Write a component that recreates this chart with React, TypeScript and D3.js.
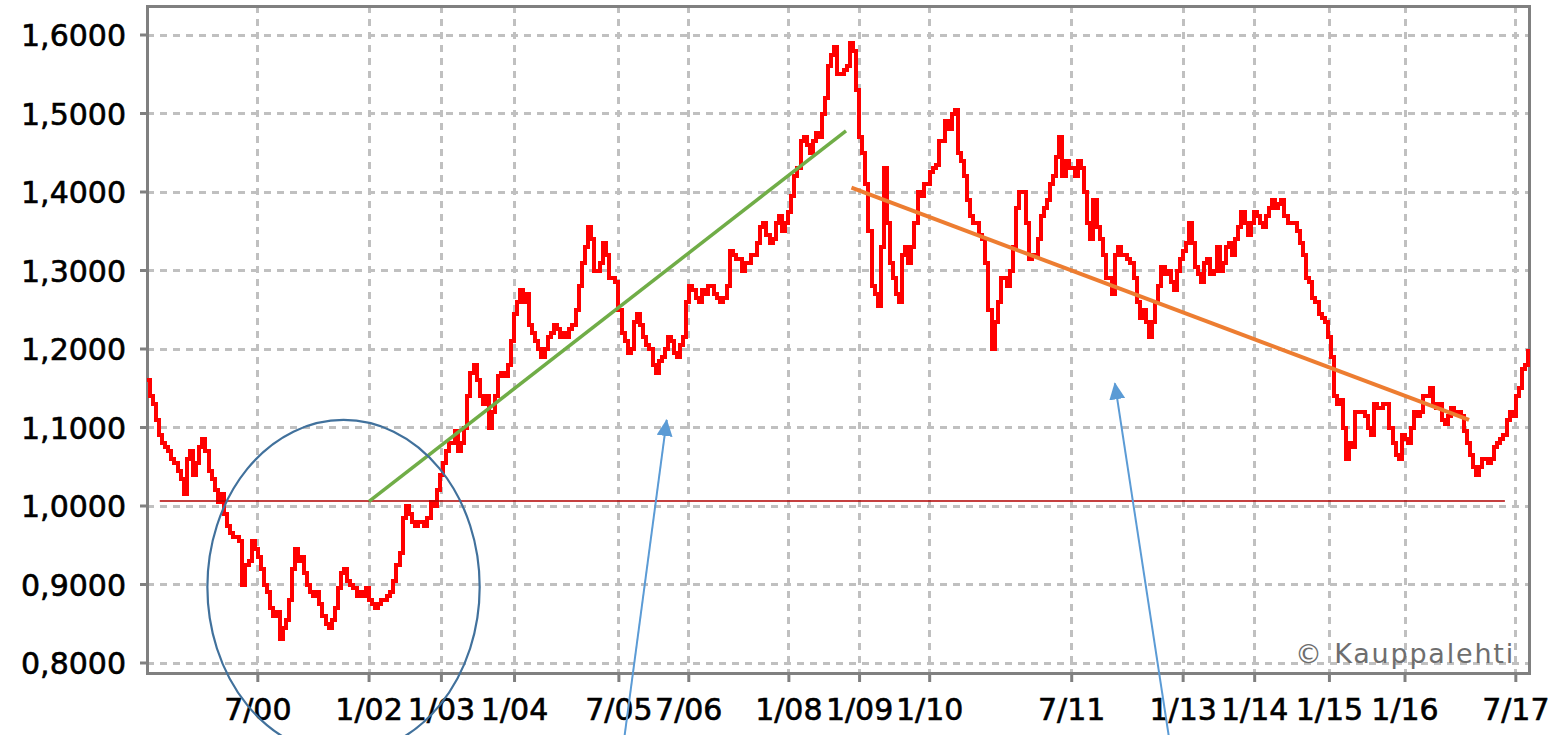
import React, { useEffect, useRef } from "react"
import * as d3 from "d3"

const eur1999 = [1.16, 1.14, 1.13, 1.11, 1.09, 1.08, 1.075, 1.07, 1.06, 1.055, 1.045, 1.035, 1.015, 1.06, 1.07, 1.04, 1.055, 1.075, 1.085, 1.07, 1.045, 1.035, 1.02, 1.005]
const eur2000 = [1.015, 0.99, 0.975, 0.965, 0.96, 0.96, 0.955, 0.9, 0.925, 0.93, 0.955, 0.945, 0.935, 0.92, 0.9, 0.89, 0.87, 0.86, 0.865, 0.83, 0.845, 0.855, 0.88, 0.92]
const eur2001 = [0.945, 0.93, 0.935, 0.915, 0.9, 0.89, 0.885, 0.89, 0.875, 0.86, 0.85, 0.845, 0.855, 0.87, 0.895, 0.915, 0.92, 0.905, 0.9, 0.895, 0.885, 0.89, 0.885, 0.895]
const eur2002 = [0.88, 0.875, 0.87, 0.875, 0.88, 0.88, 0.885, 0.89, 0.905, 0.925, 0.94, 0.985, 1.0, 0.99, 0.98, 0.975, 0.98, 0.98, 0.975, 0.985, 1.005, 1.0, 1.02, 1.04]
const eur2003 = [1.055, 1.07, 1.08, 1.08, 1.095, 1.07, 1.08, 1.1, 1.14, 1.17, 1.18, 1.16, 1.14, 1.13, 1.14, 1.1, 1.12, 1.14, 1.165, 1.17, 1.165, 1.18, 1.21, 1.245]
const eur2004 = [1.26, 1.275, 1.26, 1.27, 1.23, 1.22, 1.21, 1.2, 1.19, 1.2, 1.215, 1.22, 1.23, 1.225, 1.215, 1.22, 1.215, 1.225, 1.23, 1.25, 1.28, 1.31, 1.33, 1.355]
const eur2005 = [1.34, 1.3, 1.3, 1.31, 1.335, 1.32, 1.29, 1.29, 1.285, 1.25, 1.22, 1.21, 1.195, 1.2, 1.235, 1.245, 1.23, 1.215, 1.205, 1.2, 1.18, 1.17, 1.185, 1.19]
const eur2006 = [1.2, 1.215, 1.21, 1.195, 1.19, 1.205, 1.215, 1.26, 1.28, 1.275, 1.265, 1.26, 1.275, 1.27, 1.28, 1.28, 1.27, 1.265, 1.26, 1.265, 1.28, 1.325, 1.32, 1.315]
const eur2007 = [1.315, 1.3, 1.31, 1.31, 1.32, 1.32, 1.335, 1.355, 1.36, 1.345, 1.335, 1.34, 1.36, 1.37, 1.35, 1.36, 1.375, 1.395, 1.42, 1.43, 1.465, 1.47, 1.46, 1.45]
const eur2008 = [1.465, 1.475, 1.47, 1.5, 1.52, 1.56, 1.575, 1.585, 1.55, 1.55, 1.555, 1.56, 1.59, 1.58, 1.53, 1.47, 1.45, 1.41, 1.35, 1.28, 1.27, 1.255, 1.33, 1.43]
const eur2009 = [1.36, 1.31, 1.29, 1.27, 1.26, 1.32, 1.33, 1.31, 1.33, 1.36, 1.4, 1.395, 1.41, 1.41, 1.425, 1.43, 1.435, 1.465, 1.465, 1.49, 1.48, 1.5, 1.505, 1.45]
const eur2010 = [1.44, 1.42, 1.39, 1.37, 1.36, 1.36, 1.345, 1.34, 1.31, 1.25, 1.2, 1.235, 1.26, 1.29, 1.29, 1.28, 1.3, 1.33, 1.38, 1.4, 1.4, 1.36, 1.315, 1.32]
const eur2011 = [1.32, 1.34, 1.37, 1.38, 1.39, 1.41, 1.42, 1.445, 1.47, 1.42, 1.44, 1.43, 1.43, 1.42, 1.44, 1.43, 1.4, 1.36, 1.34, 1.39, 1.355, 1.34, 1.32, 1.29]
const eur2012 = [1.29, 1.27, 1.32, 1.33, 1.32, 1.32, 1.315, 1.31, 1.29, 1.26, 1.24, 1.25, 1.235, 1.215, 1.235, 1.26, 1.28, 1.305, 1.295, 1.3, 1.285, 1.275, 1.3, 1.315]
const eur2013 = [1.325, 1.335, 1.36, 1.335, 1.305, 1.295, 1.285, 1.31, 1.315, 1.295, 1.3, 1.33, 1.3, 1.31, 1.33, 1.335, 1.32, 1.34, 1.355, 1.375, 1.36, 1.345, 1.36, 1.375]
const eur2014 = [1.37, 1.36, 1.355, 1.37, 1.38, 1.39, 1.38, 1.385, 1.39, 1.37, 1.36, 1.36, 1.36, 1.35, 1.335, 1.32, 1.29, 1.285, 1.265, 1.26, 1.245, 1.24, 1.235, 1.215]
const eur2015 = [1.19, 1.14, 1.13, 1.135, 1.1, 1.06, 1.08, 1.075, 1.12, 1.12, 1.12, 1.115, 1.1, 1.09, 1.13, 1.125, 1.125, 1.13, 1.13, 1.1, 1.08, 1.065, 1.06, 1.09]
const eur2016 = [1.085, 1.08, 1.1, 1.12, 1.115, 1.12, 1.14, 1.14, 1.15, 1.13, 1.125, 1.13, 1.11, 1.105, 1.115, 1.125, 1.12, 1.12, 1.115, 1.095, 1.08, 1.065, 1.05, 1.04]
const eur2017 = [1.05, 1.06, 1.06, 1.055, 1.06, 1.075, 1.08, 1.085, 1.09, 1.11, 1.12, 1.115, 1.14, 1.15, 1.175, 1.18, 1.2]

const years: [number, number[]][] = [
  [1999, eur1999], [2000, eur2000], [2001, eur2001], [2002, eur2002], [2003, eur2003],
  [2004, eur2004], [2005, eur2005], [2006, eur2006], [2007, eur2007], [2008, eur2008],
  [2009, eur2009], [2010, eur2010], [2011, eur2011], [2012, eur2012], [2013, eur2013],
  [2014, eur2014], [2015, eur2015], [2016, eur2016], [2017, eur2017],
]

// x labels; the source puts several of them off their own month, so the dates are where they sit
const tickLabels = ["7/00", "1/02", "1/03", "1/04", "7/05", "7/06", "1/08", "1/09", "1/10", "7/11", "1/13", "1/14", "1/15", "1/16", "7/17"]
const tickDates = ["2000-07-01", "2002-01-01", "2002-12-24", "2003-12-20", "2005-05-18", "2006-04-28", "2007-09-04", "2008-08-18", "2009-07-30", "2011-07-01", "2013-01-01", "2013-12-20", "2014-12-24", "2016-01-01", "2017-07-01"]
const yTicks = [0.8, 0.9, 1.0, 1.1, 1.2, 1.3, 1.4, 1.5, 1.6]

// drawn-on annotations: [date, value] pairs
const levelLine = [["1999-03-05", 1.0064], ["2017-05-08", 1.0064]]
const greenTrend = [["2002-01-01", 1.0058], ["2008-06-12", 1.478]]
const orangeTrend = [["2008-07-09", 1.4055], ["2016-11-12", 1.1096]]
const circle = { center: ["2001-08-28", 0.8968], left: "1999-10-26", top: 1.1096 }
const arrows = [
  [["2005-06-01", 0.68], ["2006-01-09", 1.1096]],
  [["2012-11-07", 0.68], ["2012-01-30", 1.1563]],
]

const parse = d3.timeParse("%Y-%m-%d")

const drawChart = (svgEl) => {
  const width = 1563
  const height = 735
  const left = 147
  const right = 1529
  const top = 6
  const bottom = 673

  const svg = d3.select(svgEl)
  svg.selectAll("*").remove()
  svg.attr("width", width).attr("height", height)

  const series = []
  years.forEach(([year, values]) => {
    values.forEach((v, i) => {
      series.push({ date: new Date(year, Math.floor(i / 2), i % 2 ? 16 : 1), value: v })
    })
  })

  const x = d3.scaleTime().domain([new Date(1999, 0, 1), new Date(2017, 8, 4)]).range([left, right])
  const y = d3.scaleLinear().domain([0.8, 1.6]).range([663, 35])

  const fi = d3.formatLocale({ decimal: ",", thousands: "\u00a0", grouping: [3], currency: ["", " €"] })
  const fmt = fi.format(".4f")

  svg.append("rect").attr("width", width).attr("height", height).attr("fill", "#ffffff")

  // grid
  const grid = svg.append("g")
    .attr("stroke", "#c0c0c0")
    .attr("stroke-width", 3)
    .attr("stroke-dasharray", "7,6")
    .attr("shape-rendering", "crispEdges")
  grid.selectAll("line.h")
    .data(yTicks)
    .enter()
    .append("line")
    .attr("x1", left)
    .attr("x2", right)
    .attr("y1", d => y(d))
    .attr("y2", d => y(d))
  grid.selectAll("line.v")
    .data(tickDates)
    .enter()
    .append("line")
    .attr("x1", d => x(parse(d)))
    .attr("x2", d => x(parse(d)))
    .attr("y1", top)
    .attr("y2", bottom)

  // frame and tick marks
  svg.append("rect")
    .attr("x", left)
    .attr("y", top)
    .attr("width", right - left)
    .attr("height", bottom - top)
    .attr("fill", "none")
    .attr("stroke", "#808080")
    .attr("stroke-width", 3)
    .attr("shape-rendering", "crispEdges")

  svg.selectAll("line.ytick")
    .data(yTicks)
    .enter()
    .append("line")
    .attr("x1", left - 7)
    .attr("x2", left)
    .attr("y1", d => y(d))
    .attr("y2", d => y(d))
    .attr("stroke", "#808080")
    .attr("stroke-width", 3)

  svg.selectAll("line.xtick")
    .data(tickDates)
    .enter()
    .append("line")
    .attr("x1", d => x(parse(d)))
    .attr("x2", d => x(parse(d)))
    .attr("y1", bottom)
    .attr("y2", bottom + 9)
    .attr("stroke", "#808080")
    .attr("stroke-width", 3)

  // labels
  svg.selectAll("text.ylab")
    .data(yTicks)
    .enter()
    .append("text")
    .text(d => fmt(d))
    .attr("x", 126)
    .attr("y", d => y(d) + 11)
    .attr("text-anchor", "end")
    .style("font-family", "DejaVu Sans")
    .style("font-size", "30px")
    .attr("fill", "#000")
    .attr("stroke", "#000")
    .attr("stroke-width", 0.6)

  svg.selectAll("text.xlab")
    .data(tickDates)
    .enter()
    .append("text")
    .text((d, i) => tickLabels[i])
    .attr("x", d => x(parse(d)))
    .attr("y", 720)
    .attr("text-anchor", "middle")
    .style("font-family", "DejaVu Sans")
    .style("font-size", "30px")
    .attr("fill", "#000")
    .attr("stroke", "#000")
    .attr("stroke-width", 0.6)

  svg.append("text")
    .text("© Kauppalehti")
    .attr("x", 1515)
    .attr("y", 663)
    .attr("text-anchor", "end")
    .style("font-family", "DejaVu Sans")
    .style("font-size", "27px")
    .style("letter-spacing", "1.8px")
    .attr("fill", "#6e6e6e")

  // price line
  const line = d3.line()
    .x(d => x(d.date))
    .y(d => y(d.value))
    .curve(d3.curveStepAfter)
  svg.append("path")
    .datum(series)
    .attr("d", line)
    .attr("fill", "none")
    .attr("stroke", "#ff0000")
    .attr("stroke-width", 4)
    .attr("shape-rendering", "crispEdges")

  // annotations
  const seg = (pts, colour, w) => {
    svg.append("line")
      .attr("x1", x(parse(pts[0][0])))
      .attr("y1", y(pts[0][1]))
      .attr("x2", x(parse(pts[1][0])))
      .attr("y2", y(pts[1][1]))
      .attr("stroke", colour)
      .attr("stroke-width", w)
  }
  seg(levelLine, "#b00000", 1.5)
  seg(greenTrend, "#70ad47", 3.5)
  seg(orangeTrend, "#ed7d31", 4)

  const cx = x(parse(circle.center[0]))
  const cy = y(circle.center[1])
  svg.append("ellipse")
    .attr("cx", cx)
    .attr("cy", cy)
    .attr("rx", cx - x(parse(circle.left)))
    .attr("ry", cy - y(circle.top))
    .attr("fill", "none")
    .attr("stroke", "#41719c")
    .attr("stroke-width", 2.2)

  svg.append("defs")
    .append("marker")
    .attr("id", "head")
    .attr("markerUnits", "userSpaceOnUse")
    .attr("markerWidth", 17)
    .attr("markerHeight", 16)
    .attr("refX", 16)
    .attr("refY", 8)
    .attr("orient", "auto")
    .append("path")
    .attr("d", "M0,0 L17,8 L0,16 Z")
    .attr("fill", "#5b9bd5")

  arrows.forEach(a => {
    svg.append("line")
      .attr("x1", x(parse(a[0][0])))
      .attr("y1", y(a[0][1]))
      .attr("x2", x(parse(a[1][0])))
      .attr("y2", y(a[1][1]))
      .attr("stroke", "#5b9bd5")
      .attr("stroke-width", 2)
      .attr("marker-end", "url(#head)")
  })
}

export default function App() {
  const ref = useRef(null)
  useEffect(() => {
    drawChart(ref.current)
  }, [])

  return <svg ref={ref} style={{ position: "absolute", left: 0, top: 0, display: "block" }}></svg>
}
